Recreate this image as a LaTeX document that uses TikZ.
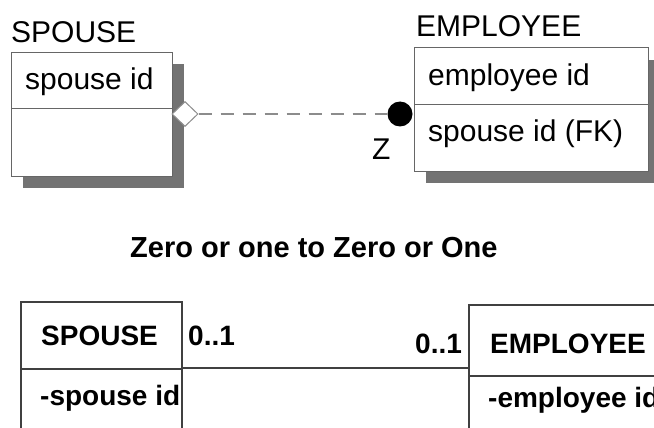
\documentclass[tikz,border=0pt]{standalone}
\usepackage{fontspec}
\setmainfont{Liberation Sans}
\usetikzlibrary{shapes.geometric}
\begin{document}
\begin{tikzpicture}[x=1pt,y=-1pt,
  lbl/.style={inner sep=0pt,anchor=base west,font=\fontsize{30}{30}\selectfont},
  blbl/.style={inner sep=0pt,anchor=base west,font=\fontsize{28}{28}\selectfont\bfseries},
  shadowbox/.style={fill=black!55,draw=none},
  topbox/.style={fill=white,draw=black!60,line width=1pt},
  botbox/.style={fill=white,draw=black!75,line width=1.2pt},
  conn/.style={draw=black!45,line width=2pt,dash pattern=on 13pt off 9pt},
  diamondend/.style={diamond,fill=white,draw=black!45,line width=1pt,minimum width=26pt,minimum height=25pt,inner sep=0pt},
  dotend/.style={circle,fill=black,minimum size=25pt,inner sep=0pt}
]
\useasboundingbox (0,0) rectangle (654,428);
\clip (0,0) rectangle (654,428);
\fill[white] (0,0) rectangle (654,428);
% ---------- top: SPOUSE entity ----------
\fill[shadowbox] (23,64) rectangle (184,188);
\draw[topbox] (11,53) rectangle (172,176);
\coordinate (spA) at (11,109);
\coordinate (spB) at (172,109);
\draw[black!60,line width=1pt] (spA) -- (spB);
\node[lbl] (spT) at (11,43) {SPOUSE};
\node[lbl] (spK) at (25,90) {spouse id};
% ---------- top: EMPLOYEE entity ----------
\fill[shadowbox] (426,60) rectangle (662,183);
\draw[topbox] (414,48) rectangle (648,171);
\coordinate (emA) at (414,105);
\coordinate (emB) at (648,105);
\draw[black!60,line width=1pt] (emA) -- (emB);
\node[lbl] (emT) at (416,37) {EMPLOYEE};
\node[lbl] (emK) at (428,85) {employee id};
\node[lbl] (emF) at (428,141) {spouse id (FK)};
% ---------- relationship ----------
\node[diamondend] (dia) at (185,114) {};
\node[dotend] (dot) at (400,114) {};
\draw[conn] (dia.east) -- (dot.west);
\node[lbl] (zz) at (372,159) {Z};
% ---------- title ----------
\node[inner sep=0pt,anchor=base west,font=\fontsize{29}{29}\selectfont\bfseries] (title) at (130,257) {Zero or one to Zero or One};
% ---------- bottom: SPOUSE class ----------
\draw[botbox] (21,302) rectangle (182,440);
\coordinate (s2A) at (21,369);
\coordinate (s2B) at (182,369);
\draw[black!75,line width=1.2pt] (s2A) -- (s2B);
\node[blbl] (s2T) at (41,345) {SPOUSE};
\begin{scope}
\clip (21,369) rectangle (182,428);
\node[blbl] (s2K) at (40,405) {-spouse id};
\end{scope}
% ---------- bottom: EMPLOYEE class ----------
\draw[botbox] (469,305) rectangle (700,440);
\coordinate (e2A) at (469,376);
\coordinate (e2B) at (700,376);
\draw[black!75,line width=1.2pt] (e2A) -- (e2B);
\node[blbl] (e2T) at (490,353) {EMPLOYEE};
\node[blbl] (e2K) at (488,407) {-employee id};
% ---------- association ----------
\coordinate (asA) at (182,368);
\coordinate (asB) at (469,368);
\draw[black!75,line width=1.2pt] (asA) -- (asB);
\node[blbl] (m1) at (188,345) {0..1};
\node[blbl] (m2) at (415,353) {0..1};
\end{tikzpicture}
\end{document}
